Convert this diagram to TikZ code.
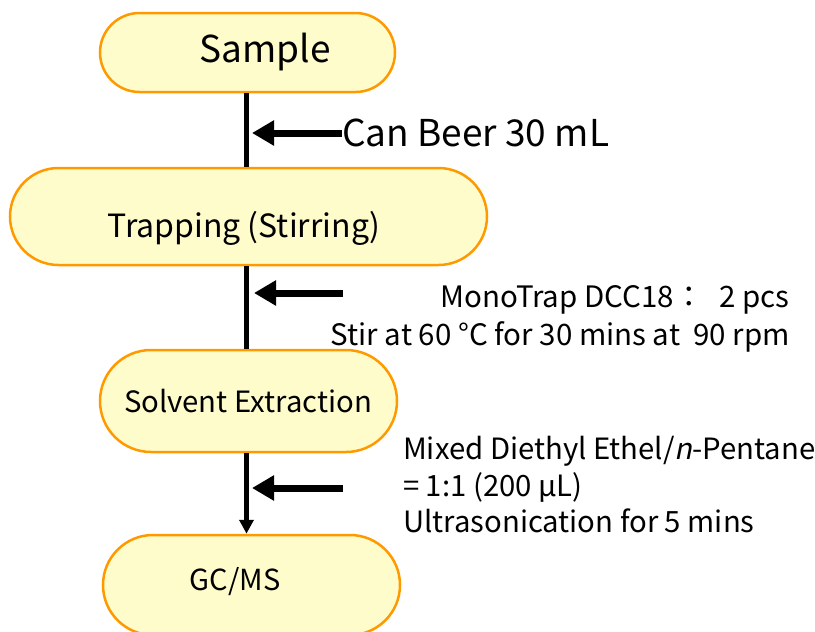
\documentclass[tikz,border=0pt]{standalone}
\usepackage{fontspec}
\setmainfont{Noto Sans CJK JP}
\newfontfamily\slantfont[FakeSlant=0.2]{Noto Sans CJK JP}
\usetikzlibrary{arrows.meta, shapes.misc, positioning}
\definecolor{boxfill}{RGB}{255,252,204}
\definecolor{boxline}{RGB}{255,153,0}
\tikzset{
  stage/.style={rounded rectangle, draw=boxline, fill=boxfill, line width=2.5pt, inner sep=0pt},
  flow/.style={line width=5.5pt},
  feed/.style={line width=7pt, -{Triangle[length=22pt,width=24pt]}},
  note/.style={inner sep=0pt, font=\fontsize{29.3}{36.5}\selectfont},
}

\begin{document}
\begin{tikzpicture}[x=1pt,y=-1pt]
          \useasboundingbox (0,0) rectangle (815,632);
          \coordinate (spine) at (246.5,0);
          % stages
          \node[stage, minimum width=295pt, minimum height=79pt] (sample) at (247.5,52.5) {};
          \node[stage, minimum width=477pt, minimum height=97pt] (trap) at (248.5,216.5) {};
          \node[stage, minimum width=297pt, minimum height=102pt] (solv) at (248.5,401) {};
          \node[stage, minimum width=297pt, minimum height=100pt] (gcms) at (251.5,585) {};
          \node[font=\fontsize{37}{44}\selectfont] (sampleT) at (265,52) {Sample};
          \node[font=\fontsize{32}{38}\selectfont] (trapT) at (244,228) {Trapping (Stirring)};
          \node[font=\fontsize{29.3}{35}\selectfont] (solvT) at (248,401) {Solvent Extraction};
          \node[font=\fontsize{29}{35}\selectfont] (gcmsT) at (235,582) {GC/MS};
          % main line
          \draw[flow] (sample.south -| spine) -- (trap.north -| spine);
          \draw[flow] (trap.south -| spine) -- (solv.north -| spine);
          \draw[flow, -{Triangle[length=14pt,width=14pt]}] (solv.south -| spine) -- (gcms.north -| spine);
          % inputs
          \node[inner sep=0pt, anchor=west, font=\fontsize{37}{44}\selectfont] (beer) at (342,133) {Can Beer 30 mL};
          \coordinate (in1) at (252,133);
          \draw[feed] (beer.west) -- (in1);
          \coordinate (from2) at (343,293);
          \coordinate (in2) at (254,293);
          \draw[feed] (from2) -- (in2);
          \node[note, anchor=east, align=right, font=\fontsize{29.5}{38}\selectfont] (trapN) at (790,319)
            {MonoTrap DCC18：\hspace{16pt}2 pcs\\Stir at 60 °C for 30 mins at\ \ 90 rpm};
          \coordinate (from3) at (343,488);
          \coordinate (in3) at (252,488);
          \draw[feed] (from3) -- (in3);
          \node[note, anchor=west, align=left] (solvN) at (403,485)
            {Mixed Diethyl Ethel/{\slantfont n}-Pentane\\= 1:1 (200 μL)\\Ultrasonication for 5 mins};
      \end{tikzpicture}
\end{document}
